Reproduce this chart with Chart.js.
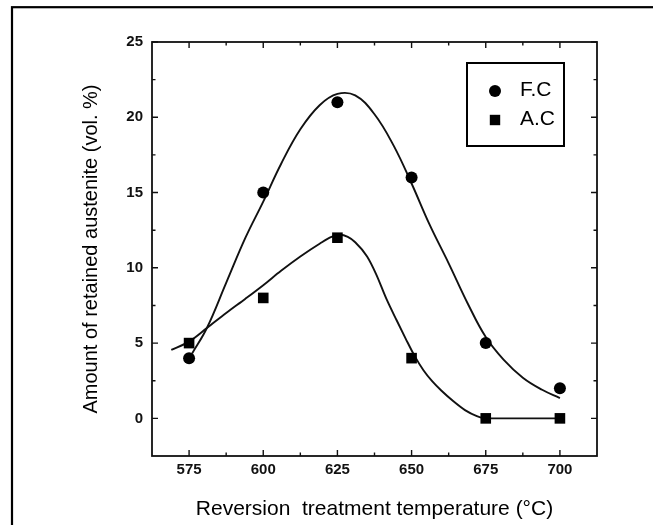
<!DOCTYPE html>
<html>
<head>
<meta charset="utf-8">
<script src="https://cdn.jsdelivr.net/npm/chart.js@4.4.1/dist/chart.umd.min.js"></script>
<style>
  html, body { margin: 0; padding: 0; background: #fff; }
  #wrap { position: relative; width: 653px; height: 525px; }
</style>
</head>
<body>
<div id="wrap"><canvas id="c" width="653" height="525"></canvas></div>
<script>
// Measured retained austenite (vol. %) after reversion treatment
const temps = [575, 600, 625, 650, 675, 700];
const fcValues = [4, 15, 21, 16, 5, 2];
const acValues = [5, 8, 12, 4, 0, 0];

// Smoothed trend curves drawn through each series
const fcFitTemps  = [576, 581, 587.5, 594, 600, 606, 612.5, 619, 625, 631, 637.5, 644, 650, 656, 662.5, 669, 675, 681, 687.5, 694, 700];
const fcFitValues = [4.3, 6.0, 9.0, 12.0, 14.4, 16.9, 19.2, 20.8, 21.55, 21.45, 20.2, 18.1, 15.6, 12.9, 10.3, 7.6, 5.4, 3.9, 2.7, 1.9, 1.35];
const acFitTemps  = [569, 575, 581, 587.5, 594, 600, 606, 612.5, 619, 623, 626, 628.5, 631, 635, 638, 641.6, 645, 648, 651, 654, 657, 660, 664, 668, 672, 675, 700];
const acFitValues = [4.55, 5.1, 6.0, 7.0, 7.95, 8.85, 9.8, 10.75, 11.6, 12.05, 12.2, 12.05, 11.7, 10.75, 9.6, 7.9, 6.5, 5.3, 4.15, 3.2, 2.45, 1.85, 1.15, 0.55, 0.15, 0, 0];

// Axis ticks
const xTicks = [575, 600, 625, 650, 675, 700];
const xMinorTicks = [587.5, 612.5, 637.5, 662.5, 687.5];
const yTicks = [0, 5, 10, 15, 20, 25];
const yMinorTicks = [2.5, 7.5, 12.5, 17.5, 22.5];

const FONT = '"Liberation Sans", Arial, Helvetica, sans-serif';
const INK = '#111';

const pts = (xs, ys) => xs.map((v, i) => ({ x: v, y: ys[i] }));

const boxPlugin = {
  id: 'boxAndTicks',
  beforeDraw(chart) {
    const ctx = chart.ctx;
    ctx.save();
    ctx.fillStyle = '#fff';
    ctx.fillRect(0, 0, chart.width, chart.height);
    // page frame around the figure
    ctx.strokeStyle = '#000';
    ctx.lineWidth = 2.2;
    ctx.strokeRect(12, 7.2, 700, 600);
    ctx.restore();
  },
  afterDatasetsDraw(chart) {
    const { ctx, chartArea: a, scales: { x, y } } = chart;
    ctx.save();
    ctx.strokeStyle = INK;
    ctx.lineWidth = 1.8;
    ctx.strokeRect(a.left, a.top, a.right - a.left, a.bottom - a.top);

    ctx.lineWidth = 1.4;
    ctx.beginPath();
    const xt = (vals, len) => vals.forEach(v => {
      const p = x.getPixelForValue(v);
      ctx.moveTo(p, a.bottom); ctx.lineTo(p, a.bottom - len);
      ctx.moveTo(p, a.top); ctx.lineTo(p, a.top + len);
    });
    const yt = (vals, len) => vals.forEach(v => {
      const p = y.getPixelForValue(v);
      ctx.moveTo(a.left, p); ctx.lineTo(a.left + len, p);
      ctx.moveTo(a.right, p); ctx.lineTo(a.right - len, p);
    });
    xt(xTicks, 6); xt(xMinorTicks, 3.5);
    yt(yTicks, 6); yt(yMinorTicks, 3.5);
    ctx.stroke();

    // legend box
    const bx = a.right - 130, by = a.top + 21, bw = 97, bh = 83;
    ctx.lineWidth = 2;
    ctx.strokeStyle = '#000';
    ctx.strokeRect(bx, by, bw, bh);
    const ds = chart.data.datasets;
    ctx.fillStyle = '#000';
    ctx.beginPath();
    ctx.arc(bx + 28, by + 28, 6, 0, Math.PI * 2);
    ctx.fill();
    ctx.fillRect(bx + 28 - 5.2, by + 57 - 5.2, 10.4, 10.4);
    ctx.font = '21px ' + FONT;
    ctx.textBaseline = 'middle';
    ctx.textAlign = 'left';
    ctx.fillText(ds[0].label, bx + 53, by + 27);
    ctx.fillText(ds[1].label, bx + 53, by + 56);
    ctx.restore();
  }
};

new Chart(document.getElementById('c'), {
  type: 'scatter',
  data: {
    datasets: [
      {
        label: 'F.C',
        data: pts(temps, fcValues),
        pointStyle: 'circle',
        pointRadius: 6,
        pointBackgroundColor: '#000',
        pointBorderColor: '#000',
        pointBorderWidth: 0,
        showLine: false
      },
      {
        label: 'A.C',
        data: pts(temps, acValues),
        pointStyle: 'rect',
        pointRadius: 7.5,
        pointBackgroundColor: '#000',
        pointBorderColor: '#000',
        pointBorderWidth: 0,
        showLine: false
      },
      {
        label: 'F.C fit',
        data: pts(fcFitTemps, fcFitValues),
        showLine: true,
        pointRadius: 0,
        borderColor: INK,
        borderWidth: 1.9,
        tension: 0.4,
        fill: false
      },
      {
        label: 'A.C fit',
        data: pts(acFitTemps, acFitValues),
        showLine: true,
        pointRadius: 0,
        borderColor: INK,
        borderWidth: 1.9,
        cubicInterpolationMode: 'monotone',
        fill: false
      }
    ]
  },
  options: {
    responsive: false,
    animation: false,
    events: [],
    layout: { padding: { top: 42, right: 56, left: 0, bottom: 0 } },
    plugins: { legend: { display: false }, tooltip: { enabled: false } },
    scales: {
      x: {
        type: 'linear',
        min: 562.5,
        max: 712.5,
        afterBuildTicks: s => { s.ticks = xTicks.map(v => ({ value: v })); },
        afterFit: s => { s.height = 69; },
        grid: { display: false, drawTicks: false },
        border: { display: false },
        ticks: { font: { family: FONT, size: 15, weight: 'bold' }, color: '#111', padding: 5, maxRotation: 0, autoSkip: false },
        title: {
          display: true,
          text: 'Reversion  treatment temperature (°C)',
          font: { family: FONT, size: 21 },
          color: '#000',
          padding: { top: 0, bottom: 3 }
        }
      },
      y: {
        type: 'linear',
        min: -2.5,
        max: 25,
        afterBuildTicks: s => { s.ticks = yTicks.map(v => ({ value: v })); },
        afterFit: s => { s.width = 152; },
        grid: { display: false, drawTicks: false },
        border: { display: false },
        ticks: { font: { family: FONT, size: 15, weight: 'bold' }, color: '#111', padding: 9, autoSkip: false },
        title: {
          display: true,
          text: 'Amount of retained austenite (vol. %)',
          font: { family: FONT, size: 20 },
          color: '#000',
          padding: { top: 79, bottom: 0 }
        }
      }
    }
  },
  plugins: [boxPlugin]
});
</script>
</body>
</html>
